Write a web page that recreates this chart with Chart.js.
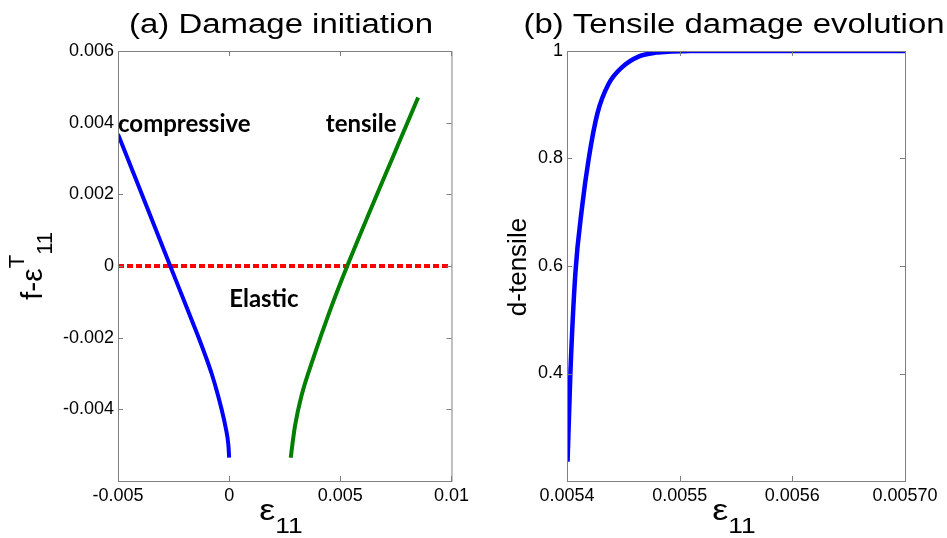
<!DOCTYPE html>
<html>
<head>
<meta charset="utf-8">
<script src="https://cdn.jsdelivr.net/npm/chart.js@4.4.1/dist/chart.umd.min.js"></script>
<style>
  html, body { margin: 0; padding: 0; background: #fff; }
  #wrap { position: relative; width: 947px; height: 538px; }
  canvas { position: absolute; top: 0; }
  #chartA { left: 0; }
  #chartB { left: 473px; }
</style>
</head>
<body>
<div id="wrap">
  <canvas id="chartA" width="473" height="538"></canvas>
  <canvas id="chartB" width="474" height="538"></canvas>
</div>
<script>
// (a) damage initiation
const compStrain = [-0.005, -0.00265, -0.00201, -0.00169, -0.00137, -0.00107, -0.00079, -0.00055, -0.00034, -0.00016, -0.000035, 0]
const compF = [0.00368, 0, -0.001, -0.0015, -0.002, -0.0025, -0.003, -0.0035, -0.004, -0.0045, -0.005, -0.00535]
const tensStrain = [0.00277, 0.00284, 0.00296, 0.00325, 0.00377, 0.0045, 0.00531, 0.0085]
const tensF = [-0.00535, -0.005, -0.00447, -0.00363, -0.0026, -0.0013, 0, 0.0047]
const elasticStrain = [-0.005, 0.01]
const elasticF = [0, 0]
const xTicksA = [-0.005, 0, 0.005, 0.01]
const xLabelsA = ["-0.005", "0", "0.005", "0.01"]
const yTicksA = [-0.004, -0.002, 0, 0.002, 0.004, 0.006]
const yLabelsA = ["-0.004", "-0.002", "0", "0.002", "0.004", "0.006"]
const regionNames = ["compressive", "tensile", "Elastic"]
const regionStrain = [-0.005, 0.00435, 0.0]
const regionF = [0.00373, 0.00373, -0.00115]

// (b) tensile damage evolution
const dStrain = [0.0054005, 0.005403, 0.0054074, 0.0054134, 0.0054193, 0.005427, 0.005437, 0.005449, 0.005464, 0.005479, 0.005493, 0.00551, 0.00555, 0.0056, 0.0057]
const dTensile = [0.236, 0.4, 0.586, 0.71, 0.8, 0.884, 0.939, 0.97, 0.99, 0.997, 0.999, 1, 1, 1, 1]
const xTicksB = [0.0054, 0.0055, 0.0056, 0.0057]
const xLabelsB = ["0.0054", "0.0055", "0.0056", "0.00570"]
const yTicksB = [0.4, 0.6, 0.8, 1]
const yLabelsB = ["0.4", "0.6", "0.8", "1"]

const FONT = "'Liberation Sans', Arial, sans-serif"
const toPoints = (xs, ys) => xs.map((x, i) => ({ x, y: ys[i] }))
const pickLabel = (ticks, labels) => (value) => {
    const i = ticks.findIndex(t => Math.abs(t - value) < 1e-12)
    return i < 0 ? "" : labels[i]
}

// draws text runs one after another (sub/superscripts), centred on x
function drawRuns(ctx, runs, x, y, stretch) {
    ctx.save()
    ctx.translate(x, y)
    ctx.scale(stretch, 1)
    let total = 0
    runs.forEach(r => { ctx.font = r.font; total += ctx.measureText(r.t).width })
    let cx = -total / 2
    ctx.textBaseline = "alphabetic"
    ctx.textAlign = "left"
    ctx.fillStyle = "#000"
    runs.forEach(r => {
        ctx.font = r.font
        ctx.fillText(r.t, cx, r.dy || 0)
        cx += ctx.measureText(r.t).width
    })
    ctx.restore()
}

// MATLAB-like box with inward ticks
const framePlugin = {
    id: "frame",
    afterDraw(chart) {
        const { ctx, chartArea: a, scales } = chart
        ctx.save()
        ctx.strokeStyle = "#808080"
        ctx.lineWidth = 1
        ctx.strokeRect(a.left + 0.5, a.top + 0.5, a.right - a.left, a.bottom - a.top)
        ctx.beginPath()
        scales.x.ticks.forEach(t => {
            const px = Math.round(scales.x.getPixelForValue(t.value)) + 0.5
            ctx.moveTo(px, a.bottom); ctx.lineTo(px, a.bottom - 5)
            ctx.moveTo(px, a.top); ctx.lineTo(px, a.top + 5)
        })
        scales.y.ticks.forEach(t => {
            const py = Math.round(scales.y.getPixelForValue(t.value)) + 0.5
            ctx.moveTo(a.left, py); ctx.lineTo(a.left + 5, py)
            ctx.moveTo(a.right, py); ctx.lineTo(a.right - 5, py)
        })
        ctx.stroke()
        ctx.restore()
    },
}

const textPlugin = {
    id: "texts",
    afterDraw(chart, args, opts) {
        const { ctx, scales } = chart
        drawRuns(ctx, [{ t: opts.title, font: `27px ${FONT}` }], opts.titleX, 33, 1.22)
        drawRuns(ctx, [
            { t: "ε", font: `30px ${FONT}` },
            { t: "11", font: `22px ${FONT}`, dy: 13 },
        ], opts.xlabX, 520, 1.2)
        ctx.save()
        ctx.translate(opts.ylabX, opts.ylabY)
        ctx.rotate(-Math.PI / 2)
        drawRuns(ctx, opts.ylab, 0, 0, 1)
        ctx.restore()
        if (opts.regions) {
            ctx.save()
            ctx.font = "bold 24px Lato, 'Open Sans', sans-serif"
            ctx.fillStyle = "#000"
            ctx.textBaseline = "alphabetic"
            opts.regions.names.forEach((n, i) => {
                ctx.fillText(n, scales.x.getPixelForValue(opts.regions.x[i]), scales.y.getPixelForValue(opts.regions.y[i]))
            })
            ctx.restore()
        }
    },
}

function axisOptions(min, max, ticks, labels, size) {
    return {
        type: "linear",
        min, max,
        grid: { display: false, drawTicks: false },
        border: { display: false },
        afterBuildTicks: s => { s.ticks = ticks.map(v => ({ value: v })) },
        afterFit: s => { if (s.isHorizontal()) s.height = size; else s.width = size },
        ticks: {
            font: { family: FONT, size: 18 },
            color: "#000",
            padding: 4,
            maxRotation: 0,
            autoSkip: false,
            callback: pickLabel(ticks, labels),
        },
    }
}

const lineStyle = {
    showLine: true,
    pointRadius: 0,
    borderWidth: 4,
    fill: false,
    cubicInterpolationMode: "monotone",
}

new Chart(document.getElementById("chartA"), {
    type: "scatter",
    data: {
        datasets: [
            { ...lineStyle, data: toPoints(compStrain, compF), borderColor: "#0000ff" },
            { ...lineStyle, data: toPoints(tensStrain, tensF), borderColor: "#008000" },
            { ...lineStyle, data: toPoints(elasticStrain, elasticF), borderColor: "#ff0000", borderDash: [6, 3], borderWidth: 4 },
        ],
    },
    options: {
        responsive: false,
        animation: false,
        layout: { padding: { left: 0, top: 51, right: 15, bottom: 0 } },
        scales: {
            x: axisOptions(-0.005, 0.01, xTicksA, xLabelsA, 57),
            y: axisOptions(-0.006, 0.006, yTicksA, yLabelsA, 118),
        },
        plugins: {
            legend: { display: false },
            tooltip: { enabled: false },
            texts: {
                title: "(a) Damage initiation",
                titleX: 281,
                xlabX: 281,
                ylabX: 42,
                ylabY: 266,
                ylab: [
                    { t: "f-ε", font: `30px ${FONT}` },
                    { t: "T", font: `22px ${FONT}`, dy: -18 },
                    { t: "11", font: `22px ${FONT}`, dy: 10 },
                ],
                regions: { names: regionNames, x: regionStrain, y: regionF },
            },
        },
    },
    plugins: [framePlugin, textPlugin],
})

new Chart(document.getElementById("chartB"), {
    type: "scatter",
    data: {
        datasets: [
            { ...lineStyle, data: toPoints(dStrain, dTensile), borderColor: "#0000ff", borderWidth: 4.5 },
        ],
    },
    options: {
        responsive: false,
        animation: false,
        layout: { padding: { left: 0, top: 51, right: 42, bottom: 0 } },
        scales: {
            x: axisOptions(0.0054, 0.0057, xTicksB, xLabelsB, 57),
            y: axisOptions(0.2, 1, yTicksB, yLabelsB, 94),
        },
        plugins: {
            legend: { display: false },
            tooltip: { enabled: false },
            texts: {
                title: "(b) Tensile damage evolution",
                titleX: 261,
                xlabX: 261,
                ylabX: 53,
                ylabY: 267,
                ylab: [{ t: "d-tensile", font: `26px ${FONT}` }],
            },
        },
    },
    plugins: [framePlugin, textPlugin],
})
</script>
</body>
</html>
